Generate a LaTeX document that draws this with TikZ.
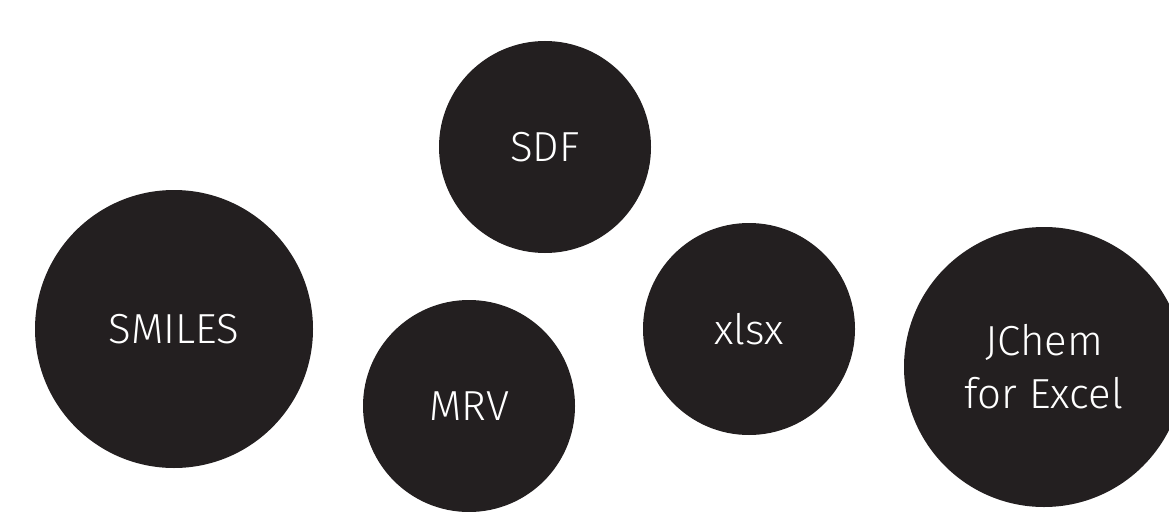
\documentclass[tikz,border=0pt]{standalone}
\usepackage{fontspec}
\setmainfont{Fira Sans}[UprightFont=* Light]
\definecolor{ink}{HTML}{231F20}
\begin{document}
\begin{tikzpicture}[x=1pt,y=-1pt,
  fmt/.style={circle, fill=ink, text=white, inner sep=0pt, align=center,
    font=\fontsize{42}{53}\selectfont}]
\useasboundingbox (0,0) rectangle (1169,511);
\clip (0,0) rectangle (1169,511);
\node [fmt, minimum size=212] (sdf) at (545,147) {SDF};
\node [fmt, minimum size=278] (smiles) at (174,329) {SMILES};
\node [fmt, minimum size=212] (mrv) at (469,406) {MRV};
\node [fmt, minimum size=212] (xlsx) at (749,329) {xlsx};
\node [fmt, minimum size=280] (jchem) at (1044,367) {JChem\\for Excel};
\end{tikzpicture}
\end{document}
